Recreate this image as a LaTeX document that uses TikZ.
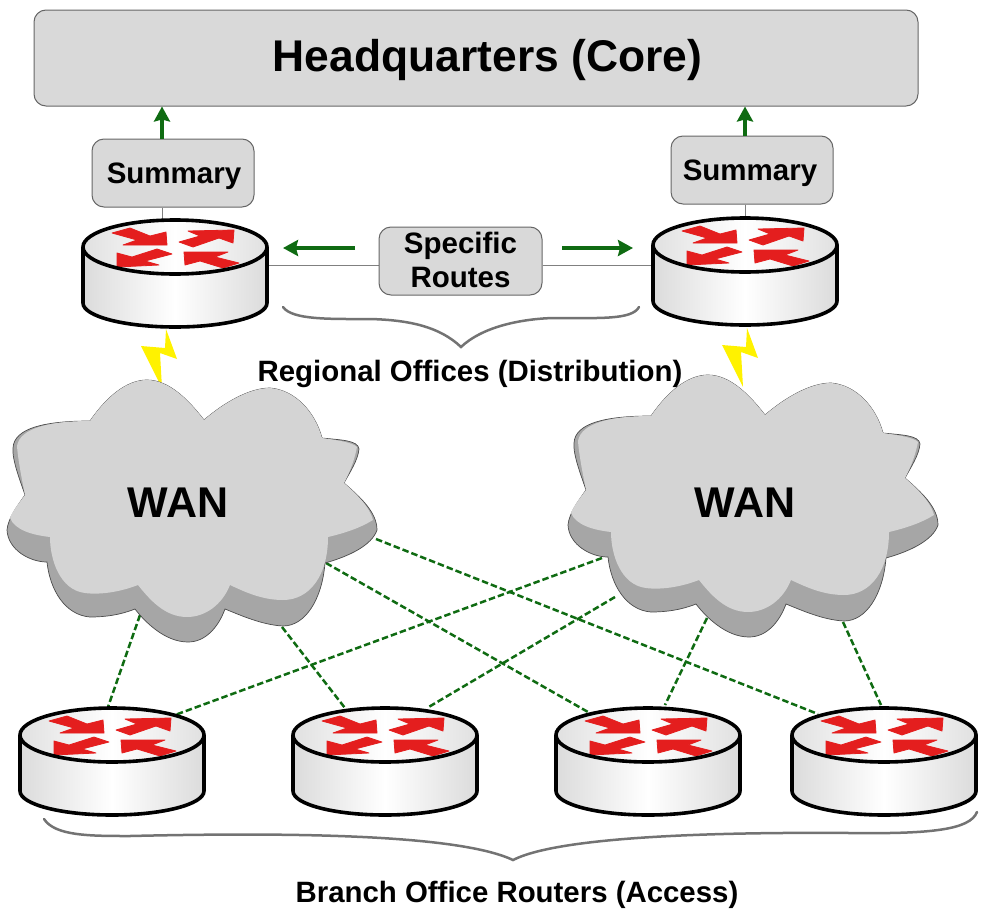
\documentclass[tikz,border=0pt]{standalone}
\usepackage{fontspec}
\setmainfont{Liberation Sans}
\usetikzlibrary{arrows.meta,positioning}
\pgfdeclarelayer{background}
\pgfsetlayers{background,main}
\definecolor{boxgray}{HTML}{D9D9D9}
\definecolor{cloudtop}{HTML}{D4D4D4}
\definecolor{cloudside}{HTML}{A6A6A6}
\definecolor{linkgreen}{HTML}{0F6B12}
\definecolor{arrowred}{HTML}{E41E1E}
\tikzstyle{label box}=[draw=black!60,line width=1pt,fill=boxgray,rounded corners=12pt,inner sep=0pt,align=center,font=\bfseries\fontsize{29.5}{34}\selectfont]
\tikzstyle{caption}=[inner sep=0pt,font=\bfseries\fontsize{29.4}{34}\selectfont]
\tikzstyle{flow}=[draw=linkgreen,line width=3.6pt,-{Stealth[length=15pt,width=16pt,inset=2pt]}]
\tikzstyle{wan link}=[draw=linkgreen,line width=2.5pt,dash pattern=on 6.5pt off 3pt]
\tikzstyle{thin link}=[draw=black!50,line width=1pt]
\tikzstyle{curly}=[draw=black!55,line width=2.5pt,line cap=round]
\tikzstyle{red turn}=[fill=arrowred,draw=arrowred,line width=.8pt,line join=round]
\tikzset{
  router/.pic={
    \node[minimum width=184pt,minimum height=107pt,inner sep=0pt] (-body) at (0,26) {};
    \path[shade,left color=black!14,right color=black!14,middle color=white]
      (-92,0) -- (-92,56) arc[start angle=180,end angle=0,x radius=92,y radius=24]
      -- (92,0) arc[start angle=0,end angle=180,x radius=92,y radius=27] -- cycle;
    \draw[line width=3.6pt] (-92,0) -- (-92,56) arc[start angle=180,end angle=0,x radius=92,y radius=24] -- (92,0);
    \path[left color=black!12,right color=black!12,middle color=white] (0,0) ellipse[x radius=92,y radius=27];
    \path[red turn] (-63,-14) -- (-45,-19) -- (-25,-11) -- (-9,-15) -- (-8,-2) -- (-52,-2) -- (-38,-7) -- cycle;
    \path[red turn] (4,-5) -- (25,-11) -- (13,-16) -- (59,-17) -- (58,-4) -- (44,-9) -- (18,0) -- cycle;
    \path[red turn] (-58,6) -- (-58,20) -- (-16,18) -- (-30,14) -- (-3,7) -- (-18,2) -- (-43,10) -- cycle;
    \path[red turn] (9,5) -- (10,18) -- (25,14) -- (48,21) -- (64,16) -- (40,10) -- (53,5) -- cycle;
    \draw[line width=3.6pt] (0,0) ellipse[x radius=92,y radius=27];
  },
  wan cloud/.pic={
    % silhouette with the dark rim, then the light top
    \draw[fill=cloudside,draw=black!70,line width=.7pt]
      (90,421) .. controls (110,392) and (130,380) .. (147,380)
      .. controls (170,380) and (190,402) .. (204,420)
      .. controls (225,402) and (250,388) .. (270,388)
      .. controls (295,390) and (315,412) .. (322,438)
      .. controls (340,440) and (358,440) .. (359,449)
      .. controls (358,460) and (350,472) .. (344,483)
      .. controls (360,497) and (377,512) .. (377,530)
      .. controls (372,545) and (350,556) .. (325,563)
      .. controls (322,600) and (305,626) .. (283,626)
      .. controls (262,625) and (240,615) .. (225,609)
      .. controls (218,628) and (205,642) .. (188,642)
      .. controls (165,642) and (145,622) .. (135,609)
      .. controls (120,615) and (105,617) .. (90,617)
      .. controls (65,615) and (50,590) .. (47,562)
      .. controls (30,562) and (8,550) .. (7,530)
      .. controls (8,518) and (18,505) .. (25,495)
      .. controls (20,480) and (12,460) .. (13,448)
      .. controls (14,428) and (45,421) .. (90,421) -- cycle;
    \fill[cloudtop]
      (90,421) .. controls (110,392) and (130,380) .. (147,380)
      .. controls (170,380) and (190,402) .. (204,420)
      .. controls (225,402) and (250,388) .. (270,388)
      .. controls (295,390) and (315,412) .. (322,438)
      .. controls (335,440) and (352,442) .. (357,447)
      .. controls (355,458) and (350,472) .. (344,483)
      .. controls (358,495) and (370,508) .. (373,520)
      .. controls (360,528) and (345,533) .. (328,537)
      .. controls (328,575) and (310,600) .. (283,600)
      .. controls (262,600) and (245,592) .. (230,585)
      .. controls (222,605) and (205,617) .. (187,617)
      .. controls (165,617) and (150,600) .. (138,585)
      .. controls (120,592) and (100,595) .. (85,593)
      .. controls (60,590) and (50,560) .. (50,537)
      .. controls (32,535) and (15,530) .. (10,518)
      .. controls (13,510) and (20,502) .. (25,495)
      .. controls (22,480) and (18,460) .. (17,446)
      .. controls (20,428) and (50,421) .. (90,421) -- cycle;
  },
  bolt/.pic={
    \fill[yellow] (166,329) -- (177,359) -- (160,353) -- (162,388) -- (141,346) -- (165,348) -- cycle;
  }
}
\begin{document}
\begin{tikzpicture}[x=1pt,y=-1pt]
    \useasboundingbox (0,0) rectangle (985,921);

    % Top box and the grey label boxes
    \node[label box,minimum width=884pt,minimum height=96pt,text height=36pt,font=\bfseries\fontsize{44.4}{50}\selectfont] (core) at (476,58) {\hspace*{23pt}Headquarters (Core)};
    \node[label box,minimum width=162pt,minimum height=68pt,text height=27pt] (sumL) at (173,173) {\hspace*{2pt}Summary};
    \node[label box,minimum width=162pt,minimum height=68pt,text height=27pt] (sumR) at (752,170) {Summary\hspace*{4pt}};
    \node[label box,minimum width=163pt,minimum height=68pt] (specific) at (460.5,261) {\raisebox{2pt}{Specific}\\\raisebox{2pt}{Routes}};

    % Lightning first, the routers and clouds sit on it
    \pic at (0,0) {bolt};
    \pic at (581,-1) {bolt};

    % Regional and branch routers
    \foreach \x/\y/\name in {175/247/regL, 745/245/regR, 112/735/brA, 385/735/brB, 648/735/brC, 884/735/brD}
        \pic (\name) at (\x,\y) {router};

    % Clouds with their text
    \pic at (0,0) {wan cloud};
    \pic at (561,-5) {wan cloud};
    \node[inner sep=0pt,font=\bfseries\fontsize{43}{48}\selectfont] (wanL) at (178,503) {WAN};
    \node[inner sep=0pt,font=\bfseries\fontsize{43}{48}\selectfont] (wanR) at (745,503) {WAN};

    % Ends of the links and arrows
    \foreach \x/\y/\name in {140/615/la, 282/627/lb, 326/563/lc, 376/539/ld,
                             602/558/ra, 615/597/rb, 707/618/rc, 843/622/rd,
                             108/707/pa, 175/715/qa, 345/708/pb, 427/708/qb,
                             588/712/pc, 665/705/qc, 818/714/pd, 881/705/qd,
                             162/139/upL, 745/136/upR, 355/248/outL, 562/248/outR,
                             283/248/tipL, 633/248/tipR, 461/265/midline}
        \coordinate (\name) at (\x,\y);

    \begin{pgfonlayer}{background}
    \foreach \source/ \dest in {la/pa, lb/pb, lc/pc, ld/pd, ra/qa, rb/qb, rc/qc, rd/qd}
        \path[wan link] (\source) -- (\dest);
    \path[thin link] (upL |- sumL.south) -- (upL |- regL-body.north);
    \path[thin link] (upR |- sumR.south) -- (upR |- regR-body.north);
    \path[thin link] (regL-body.east |- midline) -- (specific.west |- midline);
    \path[thin link] (specific.east |- midline) -- (regR-body.west |- midline);
    \end{pgfonlayer}

    % Green arrows
    \path[flow] (upL) -- (upL |- core.south);
    \path[flow] (upR) -- (upR |- core.south);
    \path[flow] (outL) -- (tipL);
    \path[flow] (outR) -- (tipR);

    % Curly groupings
    \path[curly] (283,307) .. controls (292,320) and (330,319) .. (370,319) .. controls (410,320) and (440,327) .. (461,347) .. controls (482,327) and (520,319) .. (553,318) .. controls (600,318) and (632,320) .. (639,307);
    \path[curly] (44,819) .. controls (55,836) and (90,836) .. (130,836) .. controls (300,832) and (460,835) .. (513,860) .. controls (560,836) and (720,832) .. (850,833) .. controls (930,834) and (970,830) .. (977,812);

    \node[caption] (regional) at (470,374) {Regional Offices (Distribution)};
    \node[caption] (branch) at (517,895) {Branch Office Routers (Access)};
\end{tikzpicture}
\end{document}
